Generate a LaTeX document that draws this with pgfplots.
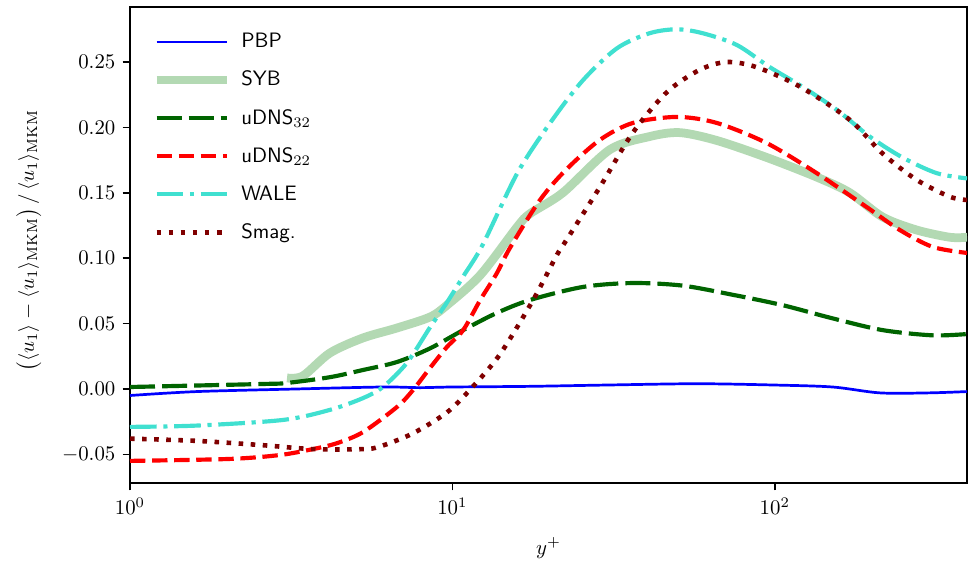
\documentclass[border=0pt]{standalone}
\usepackage{pgfplots}
\pgfplotsset{compat=1.18}
\definecolor{sybgreen}{RGB}{179,217,179}
\definecolor{dgreen}{RGB}{0,100,0}
\definecolor{turq}{RGB}{64,224,208}
\definecolor{maroon}{RGB}{128,0,0}
\begin{document}
\begin{tikzpicture}
\begin{axis}[
  width=401.8pt, height=228.5pt, scale only axis,
  xmode=log, log basis x=10,
  xmin=1, xmax=395, ymin=-0.072, ymax=0.292,
  xtick={1,10,100},
  ytick={-0.05,0,0.05,0.1,0.15,0.2,0.25},
  yticklabel style={/pgf/number format/.cd, fixed, fixed zerofill, precision=2},
  tick align=outside, tick pos=left,
  major tick length=3.5pt, minor tick length=2pt,
  every tick/.style={black, line width=0.8pt},
  axis line style={line width=1.1pt},
  xlabel={$y^+$},
  xlabel style={at={(axis description cs:0.5,-0.1365)}, anchor=center},
  ylabel={$\big(\langle u_1\rangle - \langle u_1\rangle_{\mathrm{MKM}}\big)\,/\,\langle u_1\rangle_{\mathrm{MKM}}$},
  ylabel style={at={(axis description cs:-0.121,0.51)}, anchor=center, inner sep=0pt},
  legend style={at={(0.026,0.955)}, anchor=north west, draw=none, fill=none,
    font=\sffamily, row sep=5.7pt, inner sep=0pt},
  legend cell align=left,
  legend image code/.code={\draw[#1] (0cm,0cm) -- (1.18cm,0cm); \path (1.18cm+3pt,0cm);},
  every axis plot/.append style={smooth, tension=0.5, line cap=butt},
]
\addplot[blue, line width=1.3pt] coordinates {
(1,-0.005)(1.61,-0.002)(3.3,0.0)(6.09,0.0015)(7.93,0.001)(10,0.0015)(17.4,0.002)(30,0.003)(57.3,0.004)(100,0.003)(151,0.0015)(212,-0.003)(300,-0.003)(395,-0.002)};
\addlegendentry{PBP}
\addplot[sybgreen, line width=4.2pt] coordinates {
(3.07,0.0084)(3.44,0.010)(4.17,0.0275)(5.28,0.039)(6.73,0.0466)(8.52,0.055)(9.61,0.064)(12.2,0.087)(15.9,0.124)(17.4,0.134)(22,0.150)(30.8,0.183)(40.9,0.193)(50.7,0.196)(66.1,0.190)(94.4,0.177)(135,0.162)(171,0.150)(216,0.1315)(275,0.1216)(349,0.116)(395,0.116)};
\addlegendentry{SYB}
\addplot[dgreen, line width=2pt, dash pattern=on 12pt off 3.4pt] coordinates {
(1,0.0015)(2.58,0.0038)(3.07,0.0046)(4.17,0.009)(5.28,0.0145)(6.73,0.0206)(8.52,0.031)(10.8,0.045)(13.7,0.058)(17.4,0.068)(25.4,0.078)(36.3,0.081)(51.8,0.079)(74.1,0.072)(106,0.064)(151,0.054)(216,0.045)(309,0.041)(395,0.042)};
\addlegendentry{uDNS$_{32}$}
\addplot[red, line width=2pt, dash pattern=on 7.4pt off 3.2pt] coordinates {
(1,-0.055)(2.04,-0.0535)(2.92,-0.0505)(3.69,-0.046)(4.38,-0.0415)(5.28,-0.033)(6.73,-0.0138)(7.54,-0.001)(8.52,0.016)(9.61,0.032)(10.8,0.045)(12.2,0.068)(13.7,0.088)(15.1,0.108)(18.7,0.1445)(22.6,0.168)(28.7,0.1905)(36.3,0.2034)(49.7,0.208)(66.1,0.2034)(94.4,0.188)(135,0.165)(193,0.139)(244,0.1216)(309,0.1086)(395,0.104)};
\addlegendentry{uDNS$_{22}$}
\addplot[turq, line width=2pt, dash pattern=on 12.8pt off 3.2pt on 2pt off 3.2pt] coordinates {
(1,-0.029)(1.61,-0.028)(2.98,-0.0237)(4.17,-0.016)(5.28,-0.007)(6.09,0.0015)(7.23,0.020)(8.52,0.047)(9.61,0.066)(10.8,0.086)(12.4,0.110)(15.9,0.165)(20.1,0.2034)(25.4,0.236)(32.4,0.2605)(40.9,0.272)(49.7,0.275)(59.8,0.272)(76.3,0.263)(96.6,0.246)(122,0.231)(156,0.2133)(197,0.193)(249,0.177)(318,0.165)(395,0.161)};
\addlegendentry{WALE}
\addplot[maroon, line width=2.2pt, dash pattern=on 2.2pt off 3.6pt] coordinates {
(1,-0.038)(1.61,-0.0397)(2.58,-0.043)(3.69,-0.046)(5.28,-0.046)(5.96,-0.044)(7.54,-0.034)(9.61,-0.018)(11.3,-0.001)(14.0,0.026)(17.8,0.068)(21.1,0.1025)(22.6,0.114)(28.7,0.1545)(36.3,0.196)(46.3,0.227)(58.5,0.244)(71,0.250)(87.9,0.246)(120,0.231)(171,0.2057)(216,0.180)(275,0.160)(349,0.147)(395,0.1445)};
\addlegendentry{Smag.}
\end{axis}
\path (current axis.south west) ++(-62.4pt,-40.8pt) coordinate (bbA);
\path (current axis.north east) ++(1.4pt,3.4pt) coordinate (bbB);
\useasboundingbox (bbA) rectangle (bbB);
\end{tikzpicture}
\end{document}
